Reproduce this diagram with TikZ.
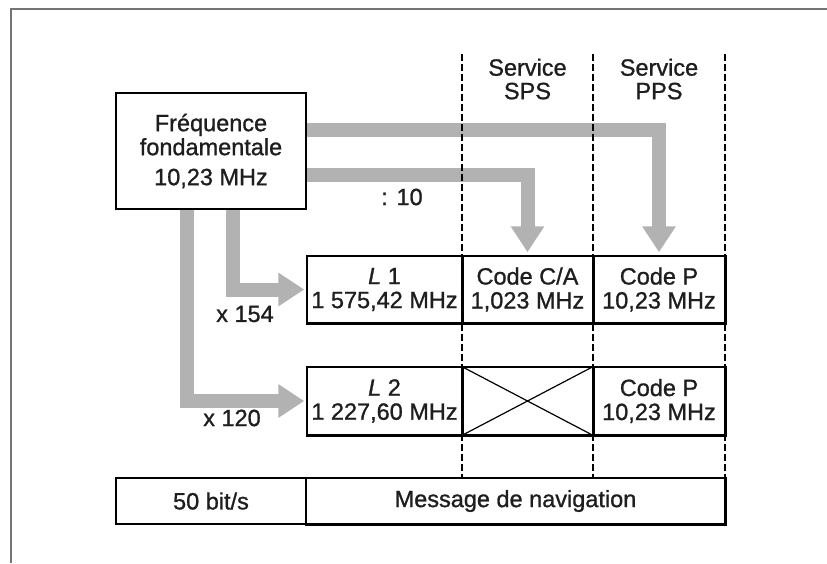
\documentclass[tikz,border=0pt]{standalone}
\usepackage{fontspec}
\setmainfont{Liberation Sans}[FakeBold=1]
\usetikzlibrary{arrows.meta}
\definecolor{arrowgray}{HTML}{B2B2B2}
\definecolor{framegray}{HTML}{757575}
\definecolor{inkgray}{HTML}{1E1E1E}
\newcommand{\labfont}{\fontsize{23.5}{24}\selectfont}
\begin{document}
\begin{tikzpicture}[x=1pt, y=-1pt,
  every node/.style={text=inkgray, font=\labfont},
  cell/.style={draw=black, line width=1.5pt, inner sep=0pt, align=center},
  bigarrow/.style={color=arrowgray, line width=14pt, line join=miter,
    -{Triangle[length=26pt, width=32pt]}},
  guide/.style={draw=black, line width=1.3pt, dash pattern=on 6.5pt off 3.5pt},
  plain/.style={inner sep=0pt, align=center}]
\useasboundingbox (0,0) rectangle (827,563);

% outer frame (top and left edges)
\draw[framegray, line width=2pt] (11,563) -- (11,9) -- (827,9);

% source box
\node[cell, minimum width=190pt, minimum height=116pt] (freq) at (211,151)
  {Fréquence\\fondamentale\\[6pt]10,23 MHz};

% L1 row
\node[cell, minimum width=155pt, minimum height=67pt] (l1) at (384.5,289.5)
  {\textit{L}~1\\1~575,42 MHz};
\node[cell, minimum width=131pt, minimum height=67pt] (ca) at (527.5,289.5)
  {Code C/A\\1,023 MHz};
\node[cell, minimum width=132pt, minimum height=67pt] (p1) at (659,289.5)
  {Code P\\10,23 MHz};

% L2 row
\node[cell, minimum width=155pt, minimum height=68pt] (l2) at (384.5,401)
  {\textit{L}~2\\1~227,60 MHz};
\node[cell, minimum width=131pt, minimum height=68pt] (nx) at (527.5,401) {};
\node[cell, minimum width=132pt, minimum height=68pt] (p2) at (659,401)
  {Code P\\10,23 MHz};
\draw[black, line width=1.2pt] (nx.north west) -- (nx.south east)
  (nx.south west) -- (nx.north east);

% navigation message row
\node[cell, minimum width=190pt, minimum height=46pt] (rate) at (211,501) {50 bit/s};
\node[cell, minimum width=419pt, minimum height=46pt] (msg) at (515.5,501)
  {Message de navigation};

% frequency derivation arrows
\draw[bigarrow, shorten >=3pt] ([yshift=21pt]freq.east) -| (p1.north);
\draw[bigarrow, shorten >=3pt] ([yshift=-24pt]freq.east) -| (ca.north);
\draw[bigarrow, shorten >=2pt] ([xshift=22pt]freq.south) |- (l1.west);
\draw[bigarrow, shorten >=2pt] ([xshift=-24pt]freq.south) |- (l2.west);

% service column guides
\coordinate (g1t) at (462,54);  \coordinate (g1b) at (462,478);
\coordinate (g2t) at (593,54);  \coordinate (g2b) at (593,478);
\coordinate (g3t) at (725,54);  \coordinate (g3b) at (725,478);
\draw[guide] (g1t) -- (g1b);
\draw[guide] (g2t) -- (g2b);
\draw[guide] (g3t) -- (g3b);

% redraw the table borders above the guides
\foreach \c in {l1,ca,p1,l2,nx,p2,msg}
  \draw[black, line width=1.5pt] (\c.north west) rectangle (\c.south east);

% labels
\node[plain, font=\fontsize{23.5}{23.5}\selectfont] (sps) at (527.5,79) {Service\\SPS};
\node[plain, font=\fontsize{23.5}{23.5}\selectfont] (pps) at (659,79) {Service\\PPS};
\node[plain] (div) at (402,197) {: 10};
\node[plain] (m154) at (245,314) {x 154};
\node[plain] (m120) at (232,418) {x 120};
\end{tikzpicture}
\end{document}
